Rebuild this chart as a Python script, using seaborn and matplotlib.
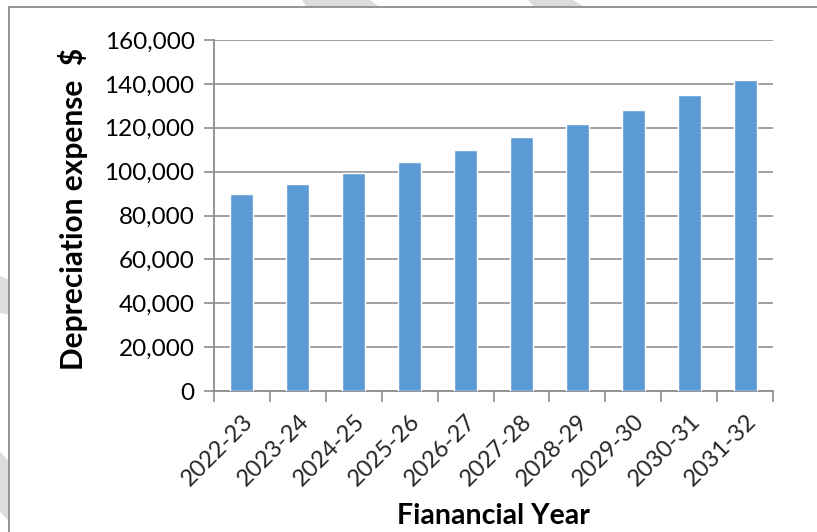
import matplotlib
matplotlib.use("Agg")
import matplotlib.pyplot as plt
from matplotlib.patches import Polygon, Rectangle
import seaborn as sns
import pandas as pd

years = ["2022-23", "2023-24", "2024-25", "2025-26", "2026-27",
         "2027-28", "2028-29", "2029-30", "2030-31", "2031-32"]
expense = [90000, 94500, 99500, 104500, 110000, 115800, 121800, 128000, 134800, 141800]
yticks = [0, 20000, 40000, 60000, 80000, 100000, 120000, 140000, 160000]
ytick_labels = ["0", "20,000", "40,000", "60,000", "80,000", "100,000",
                "120,000", "140,000", "160,000"]

df = pd.DataFrame({"year": years, "expense": expense})

sns.set_theme(style="white")
plt.rcParams["font.family"] = ["Lato", "DejaVu Sans"]

W, H = 817, 532
fig = plt.figure(figsize=(W / 100, H / 100), dpi=100)

def fp(x, y):
    return (x / W, 1 - y / H)

# faint background stripes (outside chart frame)
stripe_color = "#dcdcdc"
for poly in [
    [(302, 0), (370, 0), (381, 8), (307, 8)],
    [(528, 0), (573, 0), (586, 8), (535, 8)],
    [(0, 276), (10, 280), (10, 315), (0, 313)],
    [(0, 452), (10, 462), (10, 522), (0, 512)],
]:
    fig.patches.append(Polygon([fp(*p) for p in poly], closed=True,
                               transform=fig.transFigure, facecolor=stripe_color,
                               edgecolor="none", zorder=0))

# chart frame (left and top edges visible)
fx0, fy0 = fp(9, 7)
fig.patches.append(Rectangle((fx0, -0.1), 1.2, fy0 + 0.1, transform=fig.transFigure,
                             facecolor="white", edgecolor="#8c8c8c", linewidth=1.3,
                             zorder=0.5))

left, right, top, bottom = 214, 773, 40, 391
ax = fig.add_axes([left / W, 1 - bottom / H, (right - left) / W, (bottom - top) / H])
ax.set_zorder(2)
ax.set_facecolor("none")

sns.barplot(data=df, x="year", y="expense", color="#5B9BD5", width=0.41,
            saturation=1, ax=ax, zorder=3)

ax.set_ylim(0, 160000)
ax.set_xlim(-0.5, len(years) - 0.5)
ax.set_yticks(yticks)
ax.set_yticklabels(ytick_labels, fontsize=17.5, color="black")
ax.yaxis.grid(True, color="#a0a0a0", linewidth=1.4)
ax.set_axisbelow(True)

# category boundary ticks on x axis
ax.set_xticks([i - 0.5 for i in range(len(years) + 1)], minor=False)
ax.set_xticklabels([])
ax.set_xticks(range(len(years)), minor=True)
ax.set_xticklabels(years, minor=True, rotation=45, ha="right",
                   rotation_mode="anchor", fontsize=17)
ax.tick_params(axis="x", which="major", direction="out", length=8, width=1.2,
               color="#8c8c8c", bottom=True)
ax.tick_params(axis="x", which="minor", length=0, pad=14)
ax.tick_params(axis="y", direction="out", length=7, width=1.2, color="#8c8c8c",
               left=True, pad=7)

for s in ["top", "right"]:
    ax.spines[s].set_visible(False)
for s in ["left", "bottom"]:
    ax.spines[s].set_color("#8c8c8c")
    ax.spines[s].set_linewidth(1.3)

ax.set_xlabel("Fianancial Year", fontsize=20.5, fontweight="bold", color="black")
ax.xaxis.set_label_coords(0.5, -0.318)
ax.set_ylabel("Depreciation expense  $", fontsize=21.5, fontweight="bold", color="black")
ax.yaxis.set_label_coords(-0.226, 0.52)

fig.savefig("out.png", dpi=100)
